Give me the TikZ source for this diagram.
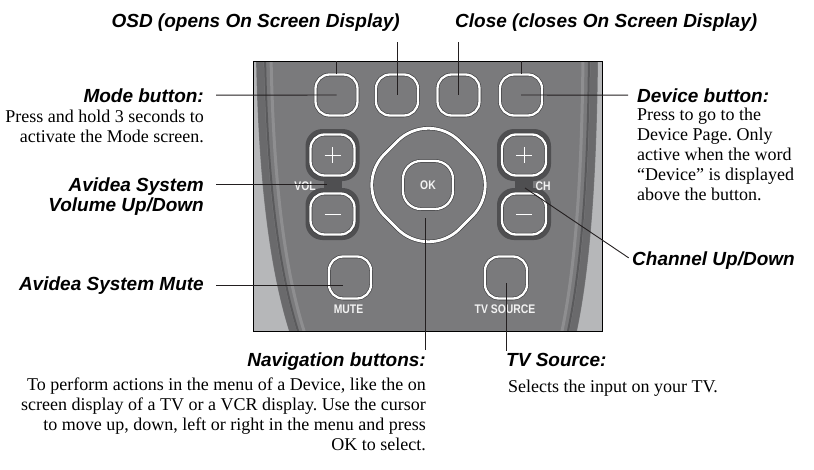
\documentclass[tikz,border=0pt]{standalone}
\usepackage{fontspec}
\setmainfont{Liberation Serif}
\newfontfamily\headfam{Liberation Sans}
\newfontfamily\keyfam[FakeStretch=0.83]{Liberation Sans}
\definecolor{bodygray}{HTML}{7A7A7C}
\definecolor{sidegray}{HTML}{B6B7B9}
\definecolor{stripeA}{HTML}{6A6A6C}
\definecolor{stripeB}{HTML}{5A5A5C}
\definecolor{stripeC}{HTML}{8E8E90}
\definecolor{halogray}{HTML}{4F4F51}
\definecolor{keyedge}{HTML}{3A3A3C}
\definecolor{keytext}{HTML}{F2F2F2}
\definecolor{leadline}{HTML}{231F20}
\frenchspacing

\begin{document}
\begin{tikzpicture}[x=1pt,y=-1pt,
  head/.style={font=\headfam\bfseries\itshape\fontsize{19}{22}\selectfont,inner sep=0pt},
  note/.style={font=\fontsize{18}{20}\selectfont,inner sep=0pt},
  key/.style={draw=keyedge,line width=0.6pt,double=white,double distance=2.3pt,fill=bodygray,
    rounded corners=14pt,minimum width=42pt,minimum height=41pt,inner sep=0pt},
  keylabel/.style={font=\keyfam\bfseries\fontsize{12.5}{13}\selectfont,text=keytext,inner sep=0pt},
  leader/.style={draw=leadline,line width=0.9pt}]
\useasboundingbox (0,0) rectangle (814,469);

\coordinate (pnw) at (253,61); \coordinate (pse) at (602,331);
\fill[sidegray] (pnw) rectangle (pse);
\begin{scope}
  \clip (pnw) rectangle (pse);
  \fill[bodygray] (256,55) .. controls (258,170) and (268,270) .. (292,340) -- (575,340)
    .. controls (591,270) and (597,170) .. (598,55) -- cycle;
  \foreach \d/\w/\c in {4/7/stripeA,9/2/stripeB,15/3/stripeC}{
    \draw[\c,line width=\w pt] (256+\d,55) .. controls (258+\d,170) and (268+\d,270) .. (292+\d,340);
    \draw[\c,line width=\w pt] (598-\d,55) .. controls (597-\d,170) and (591-\d,270) .. (575-\d,340);
  }
\end{scope}
\draw[black,line width=1pt] (pnw) rectangle (pse);

% volume and channel rockers
\foreach \x in {332.5,524}{
  \fill[halogray,rounded corners=17pt] (\x-27,129) rectangle (\x+27,181);
  \fill[halogray,rounded corners=17pt] (\x-27,188) rectangle (\x+27,240);
  \fill[halogray] (\x-9,172) rectangle (\x+9,198);
}
\foreach \x/\n in {397/bosd,458.5/bclose,336.5/bmode,521/bdev} \node[key] (\n) at (\x,95) {};
\node[key,minimum width=44pt] (volup) at (332.5,155) {};
\node[key,minimum width=44pt] (voldn) at (332.5,214) {};
\node[key,minimum width=44pt] (chup) at (524,155) {};
\node[key,minimum width=44pt] (chdn) at (524,214) {};
\foreach \n in {volup,chup}
  \draw[white,line width=0.8pt] (\n.center) +(-8,0) -- +(8,0) (\n.center) +(0,-8) -- +(0,8);
\foreach \n in {voldn,chdn}
  \draw[white,line width=0.8pt] (\n.center) +(-8,0) -- +(8,0);
\node[key,minimum width=42pt,minimum height=42pt] (bmute) at (350,277.5) {};
\node[key,minimum width=42pt,minimum height=42pt] (btv) at (506,277.5) {};
\node[key,double distance=2.8pt,rounded corners=44pt,minimum size=106pt,rotate=45] (nav) at (428.5,185) {};
\node[key,rounded corners=18pt,minimum width=50pt,minimum height=48pt] (bok) at (428,185) {};
\node[keylabel] (lok) at (bok) {OK};
\node[keylabel] (lvol) at (305,186) {VOL};
\node[keylabel] (lch) at (543,186) {CH};
\node[keylabel] (lmute) at (348.5,309) {MUTE};
\node[keylabel] (ltv) at (505,309) {TV SOURCE};
\draw[leader] (bmode.north) -- (bmode.north |- pnw);
\draw[leader] (bdev.north) -- (bdev.north |- pnw);

% labels
\node[head,anchor=base east] (osdhd) at (400,27) {OSD (opens On Screen Display)};
\node[head,anchor=base west] (closehd) at (455,27) {Close (closes On Screen Display)};
\node[head,anchor=base east] (modehd) at (204,102) {Mode button:};
\node[note,anchor=north east,align=right] (modetx) at (204,110) {Press and hold 3 seconds to\\activate the Mode screen.};
\node[head,anchor=base east] (volhd) at (204,191) {Avidea System};
\node[head,anchor=base east] (volhd2) at (204,211) {Volume Up/Down};
\node[head,anchor=base east] (mutehd) at (204,290) {Avidea System Mute};
\node[head,anchor=base west] (devhd) at (637,102) {Device button:};
\node[note,anchor=north west,align=left] (devtx) at (637,108) {Press to go to the\\Device Page. Only\\active when the word\\``Device'' is displayed\\above the button.};
\node[head,anchor=base west] (chhd) at (632,265) {Channel Up/Down};
\node[head,anchor=base east] (navhd) at (426,366) {Navigation buttons:};
\node[note,anchor=north east,align=right] (navtx) at (426,378) {To perform actions in the menu of a Device, like the on\\screen display of a TV or a VCR display. Use the cursor\\to move up, down, left or right in the menu and press\\OK to select.};
\node[head,anchor=base west] (tvhd) at (506,366) {TV Source:};
\node[note,anchor=north west] (tvtx) at (508,380) {Selects the input on your TV.};

\coordinate (volpt) at (327,184);
\coordinate (chpt) at (525,188);
\coordinate (mutept) at (343,285);
\coordinate (navpt) at (425,218);
\coordinate (tvpt) at (506,283);
\draw[leader,shorten <=11pt] (osdhd.south east -| bosd.center) -- (bosd.center);
\draw[leader,shorten <=11pt] (closehd.south west -| bclose.center) -- (bclose.center);
\draw[leader,shorten <=12pt] (modehd.east) -- (bmode.center);
\draw[leader,shorten <=12pt] (volhd.east |- volpt) -- (volpt);
\draw[leader,shorten <=12pt] (mutehd.east |- mutept) -- (mutept);
\draw[leader,shorten <=9pt] (devhd.west) -- (bdev.center);
\draw[leader,shorten >=4pt] (chpt) -- (chhd.west);
\draw[leader,shorten >=2pt] (navpt) -- (navpt |- navhd.north);
\draw[leader,shorten >=2pt] (tvpt) -- (tvpt |- tvhd.north);
\end{tikzpicture}
\end{document}
